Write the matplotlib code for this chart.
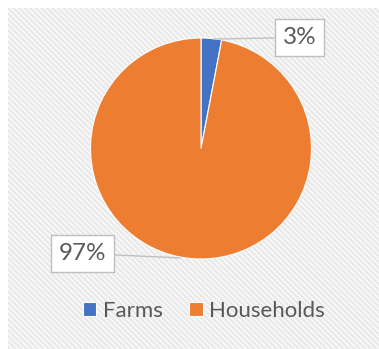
import matplotlib
matplotlib.use("Agg")
import matplotlib.pyplot as plt
from matplotlib.patches import Rectangle

labels = ["Farms", "Households"]
shares = [3, 97]
colors = ["#4472C4", "#ED7D31"]

plt.rcParams['font.family'] = ['Lato', 'DejaVu Sans']
plt.rcParams['hatch.linewidth'] = 2.0

W, H = 379, 349
fig = plt.figure(figsize=(W / 100, H / 100), dpi=100)
fig.patch.set_facecolor("white")

# hatched chart panel
panel = Rectangle((8 / W, 0), 1 - 8 / W, 1 - 8 / H, transform=fig.transFigure,
                  facecolor="white", edgecolor="#EAEAEA", linewidth=0,
                  hatch="\\" * 6, zorder=-10)
fig.patches.append(panel)

cx, cy, r = 201, 349 - 148.5, 110.5
ax = fig.add_axes([(cx - r) / W, (cy - r) / H, 2 * r / W, 2 * r / H])
ax.set_zorder(2)
ax.patch.set_alpha(0)

wedges, _ = ax.pie(shares, colors=colors, startangle=90, counterclock=False,
                   radius=1, wedgeprops=dict(edgecolor="white", linewidth=0.8))
ax.set_xlim(-1, 1)
ax.set_ylim(-1, 1)
ax.set_aspect("equal")
ax.axis("off")

box = dict(boxstyle="square,pad=0.33", facecolor="white", edgecolor="#BFBFBF", linewidth=1)
line = dict(arrowstyle="-", color="#BFBFBF", linewidth=1, shrinkA=0, shrinkB=0)

ax.annotate(f"{shares[0]}%", xy=(0.11, 0.99), xytext=(0.89, 1.005),
            ha="center", va="center", fontsize=17.5, color="#595959",
            bbox=box, arrowprops=line, annotation_clip=False)
ax.annotate(f"{shares[1]}%", xy=(-0.19, -0.99), xytext=(-1.072, -0.95),
            ha="center", va="center", fontsize=17.5, color="#595959",
            bbox=box, arrowprops=line, annotation_clip=False)

fig.legend(wedges, labels, loc="center", bbox_to_anchor=(204 / W, 1 - 311 / H),
           ncol=2, frameon=False, fontsize=16, labelcolor="#595959",
           handlelength=0.6, handleheight=0.6, handletextpad=0.3, columnspacing=1.2)

fig.savefig("out.png", dpi=100)
